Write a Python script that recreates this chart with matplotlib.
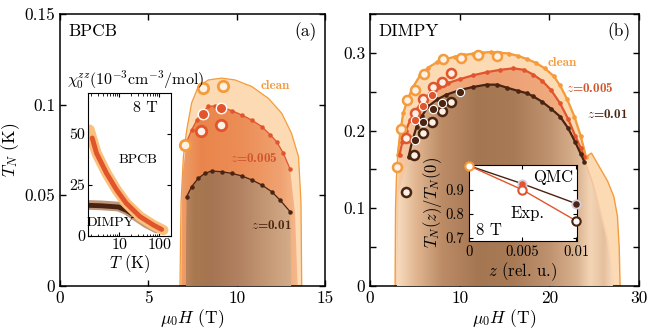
import numpy as np
import matplotlib
matplotlib.use("Agg")
import matplotlib.pyplot as plt
from matplotlib.colors import to_rgb
from matplotlib.ticker import NullFormatter

plt.rcParams['font.family'] = ['cmr10', 'DejaVu Serif']
plt.rcParams['mathtext.fontset'] = 'cm'
plt.rcParams['axes.formatter.use_mathtext'] = True
plt.rcParams['font.size'] = 12

ORANGE = '#f49b3c'
RED = '#e2542b'
DARK = '#4a2311'
PEACH = '#fcdab4'
OPENFILL = '#fdf1e6'

# ---------------- (a) BPCB ----------------
a_edge_H = [6.79, 6.85, 6.98, 7.17, 7.45, 7.83, 8.4, 9.15, 9.9, 10.85, 11.8, 12.55, 13.1, 13.5, 13.64, 13.68]
a_edge_T = [0, 0.046, 0.071, 0.086, 0.101, 0.110, 0.1136, 0.1146, 0.1136, 0.110, 0.1034, 0.0952, 0.0842, 0.0713, 0.0458, 0]

a_z05_H = [7.17, 7.45, 7.74, 8.02, 8.4, 8.77, 9.15, 9.72, 10.28, 10.85, 11.42, 11.9, 12.26, 12.64, 13.02]
a_z05_T = [0.0796, 0.086, 0.0915, 0.0956, 0.099, 0.0993, 0.0985, 0.0967, 0.0943, 0.0915, 0.0879, 0.0833, 0.0796, 0.0732, 0.0645]
a_z05_left = ([6.86, 6.92], [0, 0.06])
a_z05_right = ([13.3, 13.45], [0.04, 0])

a_z1_H = [7.17, 7.45, 7.83, 8.2, 8.58, 9.15, 9.72, 10.28, 10.85, 11.42, 11.98, 12.45, 13.02]
a_z1_T = [0.0493, 0.0548, 0.0594, 0.0621, 0.0634, 0.063, 0.0621, 0.0607, 0.0585, 0.0557, 0.052, 0.0474, 0.041]
a_z1_left = ([7.12, 7.14], [0, 0.03])
a_z1_right = ([13.06, 13.08], [0.02, 0])

a_clean_pts_H = [7.07, 8.1, 9.2]
a_clean_pts_T = [0.078, 0.109, 0.110]
a_exp05_H = [8.0, 9.1]
a_exp05_T = [0.0856, 0.089]
a_qmc05_H = [8.1, 9.1]
a_qmc05_T = [0.095, 0.098]

# inset (a): susceptibility
chi_T_bpcb = [1.8, 2.7, 4.8, 8.6, 15, 33, 71, 126]
chi_bpcb = [52, 40.5, 30.7, 22.5, 16, 9.5, 5.4, 2.9]
chi_T_bpcb_z = [2.1, 2.7, 4.8, 8.6, 15, 33, 71, 115]
chi_bpcb_z = [48, 40.5, 30.7, 22.5, 16, 9.5, 5.4, 3.2]
chi_T_dimpy = [1.7, 3.5, 5.85, 9.5, 15.3, 27, 48, 86]
chi_dimpy = [15.2, 15.0, 14.7, 14.4, 12.7, 9.5, 6.2, 3.7]
chi_T_dimpy_z = [1.8, 3.5, 5.85, 9.5, 15.3, 27, 40]
chi_dimpy_z = [15.0, 14.8, 14.5, 14.2, 12.5, 9.5, 7.6]

# ---------------- (b) DIMPY ----------------
b_clean_H = [3.1, 3.4, 3.7, 4.2, 4.8, 5.6, 6.5, 7.5, 8.5, 9.5, 10.5, 11.5, 12.5, 13.5, 14.5, 15.5, 16.5,
             17.5, 18.5, 19.5, 20.5, 21.2, 22.0, 22.8, 23.5, 24.1]
b_clean_T = [0.169, 0.200, 0.222, 0.240, 0.256, 0.271, 0.281, 0.288, 0.292, 0.295, 0.297, 0.299, 0.300,
             0.301, 0.300, 0.299, 0.296, 0.292, 0.287, 0.280, 0.270, 0.258, 0.240, 0.218, 0.193, 0.166]
b_edge_left = ([2.8, 2.85, 2.95], [0, 0.10, 0.14])
b_edge_right = ([24.7, 25.5, 26.5, 27.2, 27.6, 27.8, 27.9], [0.171, 0.155, 0.135, 0.115, 0.09, 0.05, 0])

b_z05_H = [3.3, 3.6, 4.0, 4.5, 5.0, 5.8, 6.7, 7.7, 8.7, 10, 11.5, 13, 14.5, 16, 17.2, 18.2, 19.2,
           20.2, 21.2, 22.1, 22.9, 23.5, 23.9]
b_z05_T = [0.169, 0.185, 0.200, 0.214, 0.224, 0.237, 0.248, 0.256, 0.261, 0.266, 0.271, 0.275, 0.278,
           0.280, 0.278, 0.272, 0.264, 0.252, 0.235, 0.215, 0.193, 0.178, 0.166]
b_z05_left = ([2.95, 3.05], [0, 0.12])
b_z05_right = ([25.0, 26.6, 27.3], [0.13, 0.06, 0])

b_z1_H = [4.3, 4.7, 5.2, 5.8, 6.5, 7.5, 8.5, 10, 11.5, 13, 14.2, 15.3, 16.5, 17.5, 18.2, 19.2, 20.2,
          21.2, 22.1, 22.9, 23.5, 23.9]
b_z1_T = [0.166, 0.186, 0.205, 0.219, 0.231, 0.240, 0.246, 0.252, 0.256, 0.259, 0.259, 0.255, 0.251,
          0.248, 0.244, 0.237, 0.228, 0.218, 0.203, 0.185, 0.170, 0.160]
b_z1_left = ([3.0, 3.2], [0, 0.12])
b_z1_right = ([24.8, 26.4, 27.1], [0.13, 0.06, 0])

b_clean_pts_H = [3.0, 3.5, 4.1, 5.0, 6.0, 8.1, 10.1, 12.0, 14.2]
b_clean_pts_T = [0.153, 0.202, 0.239, 0.252, 0.273, 0.292, 0.293, 0.297, 0.296]
b_exp05_H = [4.0, 5.0, 5.9, 7.0, 8.0, 9.0]
b_exp05_T = [0.190, 0.223, 0.241, 0.256, 0.262, 0.274]
b_qmc05_H = [5.0, 5.9, 6.9]
b_qmc05_T = [0.214, 0.231, 0.246]
b_exp1_H = [4.0, 4.9, 5.9, 6.9, 8.0, 9.0]
b_exp1_T = [0.121, 0.169, 0.197, 0.211, 0.225, 0.237]
b_qmc1_H = [5.0, 5.9, 7.0, 8.0, 10.0]
b_qmc1_T = [0.188, 0.211, 0.228, 0.235, 0.249]

# inset (b): T_N(z)/T_N(0) at 8 T
z_vals = [0, 0.005, 0.01]
ratio_qmc = [1.0, 0.925, 0.843]
ratio_exp = [1.0, 0.90, 0.772]


def grad_fill(ax, xs, ys, stop_x, stop_c, z):
    patch = ax.fill(xs, ys, fc='none', ec='none', zorder=z)[0]
    gx = np.linspace(min(xs), max(xs), 500)
    rgb = np.array([to_rgb(c) for c in stop_c])
    img = np.stack([np.interp(gx, stop_x, rgb[:, k]) for k in range(3)], axis=-1)[np.newaxis]
    im = ax.imshow(img, extent=[min(xs), max(xs), 0, max(ys)], aspect='auto',
                   origin='lower', zorder=z, interpolation='bilinear')
    im.set_clip_path(patch)


def style_main(ax):
    ax.tick_params(direction='in', top=True, right=True, length=4, width=1, labelsize=12.5)
    for s in ax.spines.values():
        s.set_linewidth(1.1)


fig = plt.figure(figsize=(6.48, 3.31), dpi=100)
axa = fig.add_axes([0.0926, 0.136, 0.409, 0.822])
axb = fig.add_axes([0.571, 0.136, 0.415, 0.822])

# ---- panel (a) ----
axa.fill(a_edge_H, a_edge_T, fc=PEACH, ec=ORANGE, lw=0.9, zorder=1)
xs = np.r_[a_z05_left[0], a_z05_H, a_z05_right[0]]
ys = np.r_[a_z05_left[1], a_z05_T, a_z05_right[1]]
grad_fill(axa, xs, ys, [6.8, 8.0, 10.5, 12.5, 13.5],
          ['#f0a06a', '#e9854c', '#ec8f58', '#f0a272', '#f6bb8e'], 2)
xs = np.r_[a_z1_left[0], a_z1_H, a_z1_right[0]]
ys = np.r_[a_z1_left[1], a_z1_T, a_z1_right[1]]
grad_fill(axa, xs, ys, [7.1, 7.6, 8.5, 10.0, 11.5, 13.1],
          ['#b8845e', '#a8784f', '#a57552', '#b08060', '#c29673', '#d5ad8a'], 3)

axa.plot(a_z05_H, a_z05_T, '-', color=RED, lw=0.9, marker='o', ms=2.2, zorder=4)
axa.plot(a_z1_H, a_z1_T, '-', color=DARK, lw=0.9, marker='o', ms=2.2, zorder=4)
axa.plot(a_clean_pts_H, a_clean_pts_T, 'o', ms=7.5, mfc=OPENFILL, mec=ORANGE, mew=2, zorder=6)
axa.plot(a_exp05_H, a_exp05_T, 'o', ms=7.5, mfc=OPENFILL, mec=RED, mew=2, zorder=6)
axa.plot(a_qmc05_H, a_qmc05_T, 'o', ms=7.5, mfc=RED, mec='white', mew=1, zorder=6)

axa.text(12.17, 0.110, 'clean', color=ORANGE, family='cmb10', fontsize=9.5, ha='center', va='center', zorder=7)
axa.text(10.98, 0.0704, r'$z$=0.005', color='#d0542c', family='cmb10', fontsize=9.5, ha='center', va='center', zorder=7)
axa.text(11.98, 0.0336, r'$z$=0.01', color=DARK, family='cmb10', fontsize=9.5, ha='center', va='center', zorder=7)
axa.text(0.03, 0.935, 'BPCB', transform=axa.transAxes, fontsize=12.5, va='center')
axa.text(0.97, 0.935, '(a)', transform=axa.transAxes, fontsize=12.5, va='center', ha='right')

axa.set_xlim(0, 15)
axa.set_ylim(0, 0.15)
axa.set_xticks([0, 5, 10, 15])
axa.set_xticklabels(['0', '5', '10', '15'])
axa.set_yticks([0, 0.05, 0.1, 0.15])
axa.set_yticklabels(['0', '0.05', '0.1', '0.15'])
axa.set_xlabel(r'$\mu_0H$ (T)', fontsize=12.5, labelpad=1)
axa.set_ylabel(r'$T_N$ (K)', fontsize=12.5, labelpad=2)
style_main(axa)

# ---- panel (b) ----
xs = np.r_[b_edge_left[0], b_clean_H, b_edge_right[0]]
ys = np.r_[b_edge_left[1], b_clean_T, b_edge_right[1]]
axb.fill(xs, ys, fc=PEACH, ec=ORANGE, lw=1.0, zorder=1)
xs = np.r_[b_z05_left[0], b_z05_H, b_z05_right[0]]
ys = np.r_[b_z05_left[1], b_z05_T, b_z05_right[1]]
grad_fill(axb, xs, ys, [3, 8, 14, 20, 24, 27.3],
          ['#f6cba6', '#f0ac80', '#eda074', '#efa97c', '#f4bf98', '#fad8b8'], 2)
xs = np.r_[b_z1_left[0], b_z1_H, b_z1_right[0]]
ys = np.r_[b_z1_left[1], b_z1_T, b_z1_right[1]]
grad_fill(axb, xs, ys, [3, 5, 8, 12, 16, 20, 23, 24.5, 26, 27.1],
          ['#f8dcc0', '#e2b893', '#bb8c66', '#a57652', '#a97a56', '#c09370', '#d9b290', '#f3d5b6', '#e6c09e', '#f9dcc0'], 3)

axb.plot(b_clean_H, b_clean_T, '-', color=ORANGE, lw=1.6, marker='o', ms=2.3, zorder=4)
axb.plot(b_z05_H, b_z05_T, '-', color=RED, lw=1.6, marker='o', ms=2.3, zorder=4)
axb.plot(b_z1_H, b_z1_T, '-', color=DARK, lw=1.6, marker='o', ms=2.3, zorder=4)
axb.plot(b_clean_pts_H, b_clean_pts_T, 'o', ms=6.5, mfc=OPENFILL, mec=ORANGE, mew=1.8, zorder=6)
axb.plot(b_exp05_H, b_exp05_T, 'o', ms=6.5, mfc=OPENFILL, mec=RED, mew=1.8, zorder=6)
axb.plot(b_exp1_H, b_exp1_T, 'o', ms=6.5, mfc=OPENFILL, mec=DARK, mew=1.8, zorder=6)
axb.plot(b_qmc05_H, b_qmc05_T, 'o', ms=6, mfc=RED, mec='white', mew=0.8, zorder=6)
axb.plot(b_qmc1_H, b_qmc1_T, 'o', ms=6, mfc=DARK, mec='white', mew=0.8, zorder=6)

axb.text(21.5, 0.287, 'clean', color=ORANGE, family='cmb10', fontsize=9.5, ha='center', va='center', zorder=7)
axb.text(24.5, 0.255, r'$z$=0.005', color='#d0542c', family='cmb10', fontsize=9.5, ha='center', va='center', zorder=7)
axb.text(26.5, 0.220, r'$z$=0.01', color=DARK, family='cmb10', fontsize=9.5, ha='center', va='center', zorder=7)
axb.text(0.03, 0.935, 'DIMPY', transform=axb.transAxes, fontsize=12.5, va='center')
axb.text(0.97, 0.935, '(b)', transform=axb.transAxes, fontsize=12.5, va='center', ha='right')

axb.set_xlim(0, 30)
axb.set_ylim(0, 0.35)
axb.set_xticks([0, 10, 20, 30])
axb.set_xticklabels(['0', '10', '20', '30'])
axb.set_yticks([0, 0.05, 0.1, 0.15, 0.2, 0.25, 0.3, 0.35])
axb.set_yticklabels(['0', '', '0.1', '', '0.2', '', '0.3', ''])
axb.set_xlabel(r'$\mu_0H$ (T)', fontsize=12.5, labelpad=1)
style_main(axb)

# ---- inset (a) ----
ina = fig.add_axes([0.1358, 0.287, 0.128, 0.432])
ina.set_xscale('log')
ina.plot(chi_T_dimpy, chi_dimpy, color='#b88c6c', lw=7, solid_capstyle='round', alpha=0.9)
ina.plot(chi_T_dimpy_z, chi_dimpy_z, color=DARK, lw=3.5, solid_capstyle='round')
ina.plot(chi_T_bpcb, chi_bpcb, color='#f9c07e', lw=7.5, solid_capstyle='round')
ina.plot(chi_T_bpcb_z, chi_bpcb_z, color=RED, lw=3.5, solid_capstyle='round')
ina.set_xlim(1.65, 196)
ina.set_ylim(0, 70)
ina.set_xticks([10, 100])
ina.set_xticklabels(['10', '100'])
ina.xaxis.set_minor_formatter(NullFormatter())
ina.set_yticks([0, 25, 50])
ina.set_yticklabels(['0', '25', '50'])
ina.tick_params(which='both', direction='in', top=True, right=True, labelsize=11.5, pad=2)
ina.tick_params(which='major', length=3)
ina.tick_params(which='minor', length=1.8)
ina.set_xlabel(r'$T$ (K)', fontsize=12, labelpad=0)
ina.text(0.69, 0.895, '8 T', transform=ina.transAxes, fontsize=11.5, ha='center', va='center')
ina.text(0.60, 0.53, 'BPCB', transform=ina.transAxes, fontsize=10, ha='center', va='center')
ina.text(0.27, 0.09, 'DIMPY', transform=ina.transAxes, fontsize=10, ha='center', va='center')
fig.text(0.103, 0.758, r'$\chi_0^{zz}$(10$^{-3}$cm$^{-3}$/mol)', fontsize=11.5, va='center')

# ---- inset (b) ----
inb = fig.add_axes([0.7238, 0.2734, 0.1667, 0.2296])
inb.plot(z_vals, ratio_qmc, '-', color=DARK, lw=1, zorder=2)
inb.plot(z_vals, ratio_exp, '-', color=RED, lw=1, zorder=2)
qmc_colors = [OPENFILL, RED, DARK]
exp_colors = [ORANGE, RED, DARK]
for zv, r, c in zip(z_vals[1:], ratio_qmc[1:], qmc_colors[1:]):
    inb.plot(zv, r, 'o', ms=6, mfc=c, mec='#d4cce0', mew=1.3, zorder=3, clip_on=False)
for zv, r, c in zip(z_vals, ratio_exp, exp_colors):
    inb.plot(zv, r, 'o', ms=6, mfc='white', mec=c, mew=1.5, zorder=4, clip_on=False)
inb.set_xlim(0, 0.0101)
inb.set_ylim(0.69, 1.005)
inb.set_xticks([0, 0.005, 0.01])
inb.set_xticklabels(['0', '0.005', '0.01'])
inb.set_yticks([0.7, 0.8, 0.9])
inb.set_yticklabels(['0.7', '0.8', '0.9'])
inb.tick_params(direction='in', top=True, right=True, length=3, labelsize=10.5)
inb.set_xlabel(r'$z$ (rel. u.)', fontsize=12, labelpad=1)
inb.set_ylabel(r'$T_N(z)/T_N(0)$', fontsize=12, labelpad=1)
inb.text(0.78, 0.835, 'QMC', transform=inb.transAxes, fontsize=12, ha='center', va='center')
inb.text(0.54, 0.36, 'Exp.', transform=inb.transAxes, fontsize=12, ha='center', va='center')
inb.text(0.18, 0.14, '8 T', transform=inb.transAxes, fontsize=12, ha='center', va='center')

fig.savefig('out.png', dpi=100)
